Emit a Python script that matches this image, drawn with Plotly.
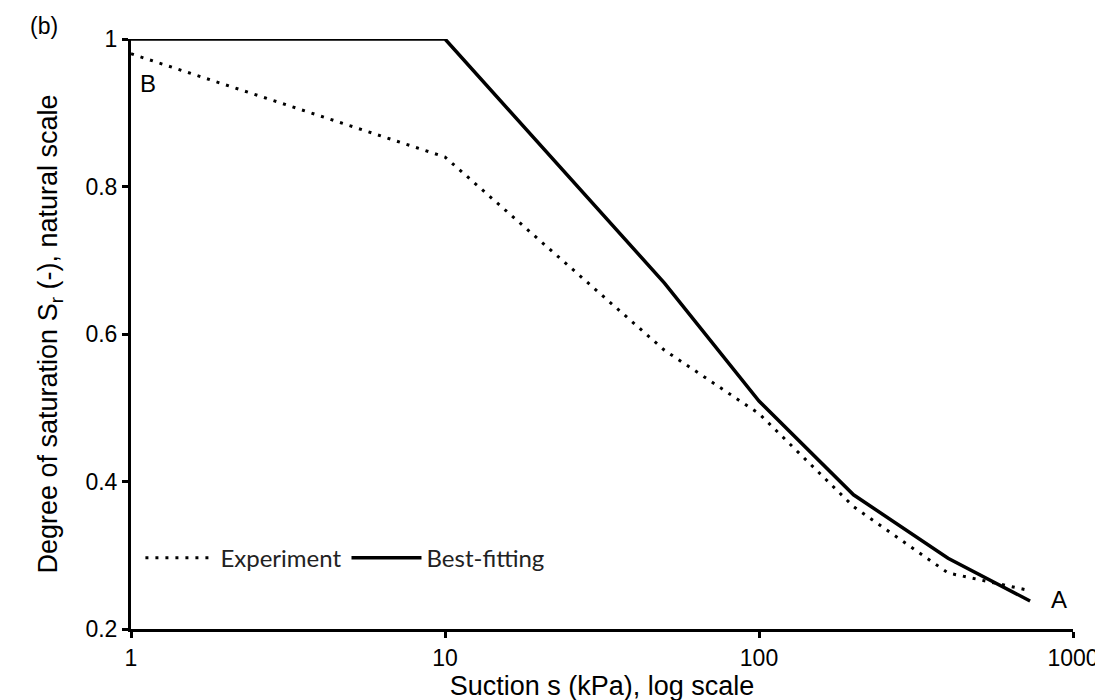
import plotly.graph_objects as go

# ============================================================
# Data
# ============================================================

exp_suction = [1, 10, 50, 100, 200, 400, 730]
exp_sr = [0.98, 0.84, 0.578, 0.492, 0.366, 0.276, 0.252]

fit_suction = [1, 10, 50, 100, 200, 400, 730]
fit_sr = [1.0, 1.0, 0.669, 0.509, 0.382, 0.296, 0.238]

x_ticks = [1, 10, 100, 1000]
y_ticks = [0.2, 0.4, 0.6, 0.8, 1.0]
y_tick_labels = ["0.2", "0.4", "0.6", "0.8", "1"]

# ============================================================
# Figure
# ============================================================

ARIAL = "Liberation Sans, Arial"

fig = go.Figure()

fig.add_trace(
    go.Scatter(
        x=exp_suction,
        y=exp_sr,
        mode="lines",
        name="Experiment",
        line=dict(color="black", width=3, dash="3px,7px"),
    )
)

fig.add_trace(
    go.Scatter(
        x=fit_suction,
        y=fit_sr,
        mode="lines",
        name="Best-fitting",
        line=dict(color="black", width=3.5),
    )
)

tick_font = dict(family=ARIAL, size=23, color="black")
title_font = dict(family=ARIAL, size=27, color="black")

fig.update_xaxes(
    type="log",
    range=[0, 3],
    tickvals=x_ticks,
    ticktext=[str(v) for v in x_ticks],
    showline=True,
    linecolor="black",
    linewidth=3,
    ticks="outside",
    ticklen=6,
    tickwidth=3,
    tickcolor="black",
    showgrid=False,
    zeroline=False,
    tickfont=tick_font,
    title=dict(text="Suction s (kPa), log scale", font=title_font, standoff=0),
)

fig.update_yaxes(
    range=[0.2, 1.0],
    tickvals=y_ticks,
    ticktext=y_tick_labels,
    showline=True,
    linecolor="black",
    linewidth=3,
    ticks="outside",
    ticklen=6,
    tickwidth=3,
    tickcolor="black",
    showgrid=False,
    zeroline=False,
    tickfont=tick_font,
    title=dict(
        text="Degree of saturation S<sub>r</sub> (-), natural scale",
        font=title_font,
        standoff=20,
    ),
)

fig.add_annotation(text="(b)", xref="paper", yref="paper", x=-0.092, y=1.022,
                   xanchor="center", yanchor="middle",
                   showarrow=False, font=dict(family=ARIAL, size=23, color="black"))
fig.add_annotation(text="B", xref="paper", yref="paper", x=0.007, y=0.925,
                   xanchor="left", yanchor="middle",
                   showarrow=False, font=dict(family=ARIAL, size=24, color="black"))
fig.add_annotation(text="A", xref="paper", yref="paper", x=0.975, y=0.05,
                   xanchor="left", yanchor="middle",
                   showarrow=False, font=dict(family=ARIAL, size=24, color="black"))

fig.update_layout(
    width=1103,
    height=700,
    plot_bgcolor="white",
    paper_bgcolor="white",
    margin=dict(l=123, r=36, t=31, b=79),
    showlegend=True,
    legend=dict(
        orientation="h",
        x=0.01,
        y=0.12,
        xanchor="left",
        yanchor="middle",
        itemwidth=70,
        bgcolor="rgba(0,0,0,0)",
        font=dict(family="Lato, Open Sans", size=24, color="#222222"),
    ),
)

fig.write_html("out.html")
